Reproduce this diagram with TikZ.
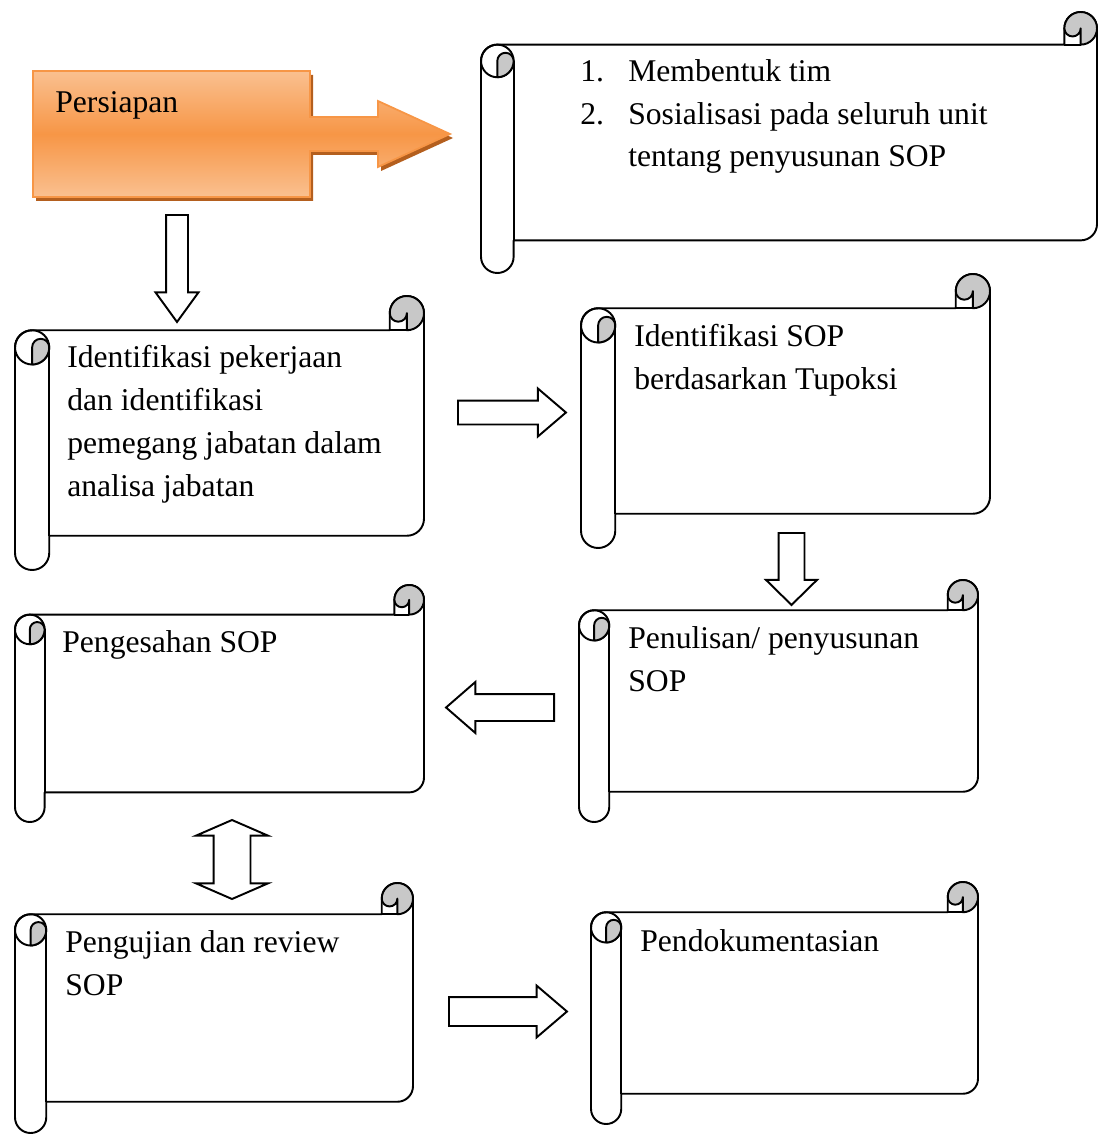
\documentclass[tikz,border=0pt]{standalone}
\usepackage{fontspec}
\setmainfont{Liberation Serif}
\usepackage{tikz}
\usetikzlibrary{shapes.arrows}
\usepackage{xcolor}
\definecolor{oranyeterang}{RGB}{250,192,144}
\definecolor{oranye}{RGB}{247,150,70}
\definecolor{bayangan}{RGB}{180,95,30}
\definecolor{abugulung}{RGB}{200,200,200}

\tikzset{
  gulung/.style={line width=1.1pt, line join=round},
  teks/.style={inner sep=0pt, anchor=base west, align=left, font=\fontsize{18}{24.4}\selectfont},
  panah/.style={single arrow, draw, fill=white, line width=1.1pt, inner sep=0pt, text height=0pt, text depth=0pt, anchor=tail},
}

\newcommand{\gulungan}[4]{%
  \pgfmathsetmacro{\gc}{0.125*min(#3-#1,#4-#2)}%
  \pgfmathsetmacro{\gh}{\gc/2}%
  \pgfmathsetmacro{\gq}{\gc/4}%
  \draw[gulung, fill=white] (#1,-#2-\gc-\gh) arc[start angle=180, end angle=90, radius=\gh]
    -- (#3-\gc,-#2-\gc) -- (#3-\gc,-#2-\gh) arc[start angle=180, end angle=0, radius=\gh]
    -- (#3,-#4+\gc+\gh) arc[start angle=0, end angle=-90, radius=\gh]
    -- (#1+\gc,-#4+\gc) -- (#1+\gc,-#4+\gh) arc[start angle=0, end angle=-180, radius=\gh] -- cycle;
  \draw[gulung] (#1+\gh,-#2-\gc-\gh) circle[radius=\gh];
  \draw[gulung, fill=abugulung] (#1+\gh,-#2-\gc-\gh) arc[start angle=180, end angle=0, radius=\gq]
    arc[start angle=0, end angle=-90, radius=\gh] -- cycle;
  \draw[gulung] (#1+\gc,-#2-\gc-\gh) -- (#1+\gc,-#4+\gc);
  \draw[gulung, fill=abugulung] (#3-\gc,-#2-\gh) arc[start angle=180, end angle=0, radius=\gh]
    arc[start angle=0, end angle=-90, radius=\gh] -- (#3-\gh,-#2-\gh)
    arc[start angle=0, end angle=-180, radius=\gq] -- cycle;
  \draw[gulung] (#3-\gc,-#2-\gc) -- (#3-\gh,-#2-\gc);
}

\begin{document}
\begin{tikzpicture}[x=0.02cm, y=0.02cm]
\useasboundingbox (0,0) rectangle (1101,-1135);

\fill[bayangan, shift={(3,-4)}] (33,-71) -- (310,-71) -- (310,-117) -- (378,-117) -- (378,-101) -- (450,-134)
  -- (378,-167) -- (378,-151) -- (310,-151) -- (310,-197) -- (33,-197) -- cycle;
\draw[oranye, line width=1pt, top color=oranyeterang, bottom color=oranyeterang, middle color=oranye]
  (33,-71) -- (310,-71) -- (310,-117) -- (378,-117) -- (378,-101) -- (450,-134)
  -- (378,-167) -- (378,-151) -- (310,-151) -- (310,-197) -- (33,-197) -- cycle;
\node[teks] (persiapan) at (55,-113) {Persiapan};

\gulungan{481}{12}{1097}{273}
\node[teks] (tim) at (580,-167) {\makebox[0.96cm][l]{1.}Membentuk tim\\
  \makebox[0.96cm][l]{2.}Sosialisasi pada seluruh unit\\
  \hspace*{0.96cm}tentang penyusunan SOP};

\gulungan{15}{296}{424}{570}
\node[teks] (ident) at (67,-496) {Identifikasi pekerjaan\\dan identifikasi\\pemegang jabatan dalam\\analisa jabatan};

\gulungan{581}{274}{990}{548}
\node[teks] (sopid) at (634,-389) {Identifikasi SOP\\berdasarkan Tupoksi};

\gulungan{15}{585}{424}{822}
\node[teks] (sah) at (62,-652) {Pengesahan SOP};

\gulungan{579}{580}{978}{822}
\node[teks] (tulis) at (628,-691) {Penulisan/ penyusunan\\SOP};

\gulungan{15}{883}{413}{1133}
\node[teks] (uji) at (65,-995) {Pengujian dan review\\SOP};

\gulungan{591}{882}{978}{1124}
\node[teks] (dok) at (640,-951) {Pendokumentasian};

\node[panah, rotate=-90, minimum height=107*0.02cm, inner ysep=10*0.02cm, single arrow head extend=10.5*0.02cm, single arrow tip angle=72] (turun1) at (177,-214) {};
\node[panah, minimum height=108*0.02cm, inner ysep=11*0.02cm, single arrow head extend=12*0.02cm, single arrow tip angle=81] (kanan1) at (457,-412.5) {};
\node[panah, rotate=-90, minimum height=72*0.02cm, inner ysep=12*0.02cm, single arrow head extend=12.5*0.02cm, single arrow tip angle=91] (turun2) at (791.5,-532) {};
\node[panah, rotate=180, minimum height=108*0.02cm, inner ysep=12.5*0.02cm, single arrow head extend=12*0.02cm, single arrow tip angle=82] (kiri) at (555,-707.5) {};
\node[double arrow, draw, fill=white, line width=1.1pt, inner sep=0pt, text height=0pt, text depth=0pt, rotate=90, minimum height=79*0.02cm, inner ysep=17.5*0.02cm, double arrow head extend=17.5*0.02cm, double arrow tip angle=133] (bolakbalik) at (232,-859.5) {};
\node[panah, minimum height=118*0.02cm, inner ysep=13.5*0.02cm, single arrow head extend=11.5*0.02cm, single arrow tip angle=81] (kanan2) at (448,-1011.5) {};
\end{tikzpicture}
\end{document}
